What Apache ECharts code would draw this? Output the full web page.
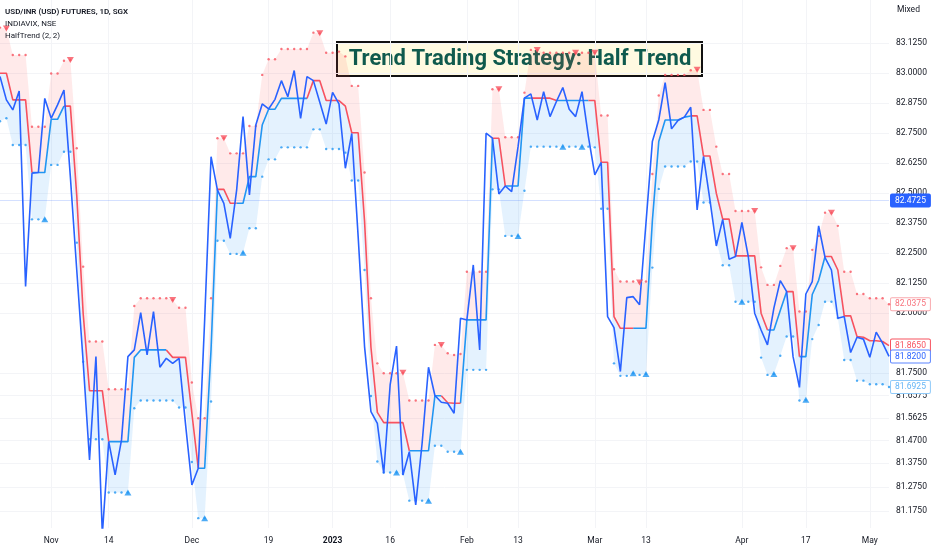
<!DOCTYPE html>
<html>
<head>
<meta charset="utf-8">
<title>HalfTrend</title>
<script src="https://cdn.jsdelivr.net/npm/echarts@6/dist/echarts.min.js"></script>
<style>
  html, body { margin: 0; padding: 0; background: #fff; }
  #chart { width: 932px; height: 550px; }
</style>
</head>
<body>
<div id="chart"></div>
<script>
// trading days (SGX), Oct 20 2022 .. May 4 2023, Jan 2 closed
function tradingDays(from, to, closed) {
  const out = []
  const d = new Date(from + 'T00:00:00Z')
  const end = new Date(to + 'T00:00:00Z')
  while (d <= end) {
    const wd = d.getUTCDay()
    const s = d.toISOString().slice(0, 10)
    if (wd !== 0 && wd !== 6 && closed.indexOf(s) < 0) out.push(s)
    d.setUTCDate(d.getUTCDate() + 1)
  }
  return out
}
const closedDays = ['2023-01-02']
const dates = tradingDays('2022-10-20', '2023-05-04', closedDays)

// price line (INDIAVIX overlay)
const closeVals = [
  82.986, 82.889, 82.847, 82.926, 82.111, 82.583, 82.586, 82.895, 82.812, 82.868,
  82.930, 82.569, 82.180, 81.798, 81.389, 81.819, 81.080, 81.465, 81.326, 81.472,
  81.819, 81.847, 82.002, 81.826, 82.007, 81.775, 81.812, 81.791, 81.812, 81.540,
  81.284, 81.354, 81.972, 82.652, 82.513, 82.458, 82.312, 82.513, 82.819, 82.493,
  82.784, 82.872, 82.851, 82.891, 82.969, 82.902, 83.011, 82.812, 82.986, 82.969,
  82.879, 82.788, 82.920, 82.872, 82.604, 82.749, 82.319, 81.861, 81.590, 81.541,
  81.333, 81.701, 81.863, 81.326, 81.423, 81.201, 81.458, 81.775, 81.657, 81.629,
  81.625, 81.583, 81.979, 81.972, 82.201, 81.847, 82.750, 82.729, 82.497, 82.530,
  82.507, 82.694, 82.896, 82.914, 82.805, 82.923, 82.819, 82.882, 82.940, 82.850,
  82.819, 82.923, 82.736, 82.576, 82.628, 81.986, 81.940, 81.757, 82.065, 82.069,
  82.035, 82.375, 82.715, 82.805, 82.961, 82.768, 82.803, 82.817, 82.858, 82.430,
  82.653, 82.472, 82.280, 82.391, 82.225, 82.236, 82.378, 82.236, 82.000, 81.930,
  81.868, 82.021, 82.136, 82.090, 81.819, 81.691, 82.080, 82.132, 82.364, 82.232,
  82.180, 81.979, 81.986, 81.836, 81.900, 81.892, 81.816, 81.921, 81.875, 81.820
]

// HalfTrend line
const htVals = [
  83.000, 83.000, 82.889, 82.889, 82.889, 82.586, 82.586, 82.586, 82.808, 82.808,
  82.863, 82.863, 82.490, 82.000, 81.677, 81.677, 81.677, 81.465, 81.465, 81.465,
  81.465, 81.816, 81.847, 81.847, 81.847, 81.847, 81.847, 81.816, 81.816, 81.816,
  81.583, 81.354, 81.354, 81.850, 82.516, 82.516, 82.458, 82.458, 82.458, 82.569,
  82.569, 82.784, 82.850, 82.850, 82.895, 82.895, 82.895, 82.895, 82.895, 82.969,
  82.969, 82.886, 82.886, 82.886, 82.863, 82.752, 82.752, 82.383, 81.858, 81.587,
  81.544, 81.544, 81.544, 81.544, 81.427, 81.427, 81.427, 81.427, 81.656, 81.656,
  81.627, 81.625, 81.625, 81.972, 81.972, 81.972, 81.972, 82.729, 82.729, 82.530,
  82.530, 82.530, 82.896, 82.896, 82.896, 82.896, 82.896, 82.886, 82.886, 82.886,
  82.886, 82.886, 82.886, 82.886, 82.629, 82.629, 81.986, 81.937, 81.937, 81.937,
  81.937, 81.937, 82.385, 82.715, 82.805, 82.805, 82.805, 82.817, 82.822, 82.822,
  82.655, 82.655, 82.500, 82.392, 82.392, 82.239, 82.239, 82.239, 82.239, 82.000,
  81.930, 81.930, 82.011, 82.090, 82.090, 81.819, 81.819, 82.078, 82.137, 82.236,
  82.236, 82.180, 81.989, 81.989, 81.903, 81.900, 81.885, 81.885, 81.882, 81.865
]

// ATR channel (upper / lower dots)
const atrHighVals = [
  83.190, 83.186, 83.076, 83.076, 83.076, 82.777, 82.777, 82.777, 82.999, 82.999,
  83.052, 83.055, 82.687, 82.194, 81.882, 81.882, 81.882, 81.683, 81.683, 81.683,
  81.683, 82.030, 82.062, 82.062, 82.062, 82.062, 82.062, 82.055, 82.023, 82.023,
  81.711, 81.562, 81.562, 82.062, 82.729, 82.729, 82.666, 82.666, 82.666, 82.780,
  82.780, 82.993, 83.058, 83.058, 83.101, 83.101, 83.101, 83.101, 83.101, 83.169,
  83.166, 83.085, 83.085, 83.090, 83.070, 82.947, 82.947, 82.586, 82.062, 81.791,
  81.750, 81.750, 81.750, 81.752, 81.636, 81.636, 81.636, 81.636, 81.868, 81.868,
  81.833, 81.826, 81.830, 82.173, 82.173, 82.173, 82.173, 82.933, 82.933, 82.733,
  82.733, 82.733, 82.919, 83.097, 83.097, 83.085, 83.085, 83.085, 83.085, 83.085,
  83.085, 83.085, 83.085, 83.085, 82.824, 82.824, 82.183, 82.132, 82.132, 82.132,
  82.128, 82.132, 82.580, 82.907, 82.993, 82.993, 82.993, 82.993, 83.012, 83.014,
  82.847, 82.847, 82.694, 82.580, 82.580, 82.426, 82.426, 82.426, 82.426, 82.191,
  82.118, 82.118, 82.197, 82.271, 82.271, 82.007, 82.007, 82.264, 82.322, 82.419,
  82.419, 82.364, 82.173, 82.173, 82.080, 82.080, 82.062, 82.062, 82.062, 82.0375
]
const atrLowVals = [
  82.800, 82.812, 82.701, 82.701, 82.701, 82.391, 82.391, 82.391, 82.618, 82.618,
  82.673, 82.673, 82.294, 81.798, 81.475, 81.475, 81.475, 81.253, 81.253, 81.253,
  81.253, 81.604, 81.636, 81.636, 81.636, 81.636, 81.636, 81.636, 81.607, 81.607,
  81.380, 81.146, 81.146, 81.632, 82.302, 82.302, 82.247, 82.247, 82.252, 82.354,
  82.354, 82.569, 82.641, 82.641, 82.691, 82.691, 82.691, 82.691, 82.691, 82.766,
  82.766, 82.684, 82.684, 82.684, 82.669, 82.553, 82.553, 82.180, 81.655, 81.382,
  81.336, 81.336, 81.336, 81.330, 81.219, 81.219, 81.219, 81.219, 81.448, 81.448,
  81.423, 81.423, 81.423, 81.764, 81.764, 81.764, 81.764, 82.516, 82.516, 82.322,
  82.322, 82.322, 82.510, 82.694, 82.694, 82.694, 82.694, 82.694, 82.694, 82.694,
  82.694, 82.694, 82.694, 82.691, 82.435, 82.435, 81.791, 81.739, 81.739, 81.750,
  81.743, 81.747, 82.190, 82.518, 82.611, 82.611, 82.611, 82.611, 82.632, 82.632,
  82.461, 82.461, 82.300, 82.200, 82.200, 82.048, 82.048, 82.048, 82.048, 81.815,
  81.743, 81.747, 81.823, 81.903, 81.903, 81.636, 81.639, 81.892, 81.951, 82.048,
  82.048, 81.980, 81.805, 81.805, 81.719, 81.719, 81.704, 81.704, 81.704, 81.6925
]

// signal bars (index into dates)
const buySignals = [7, 20, 32, 38, 62, 67, 72, 81, 88, 91, 99, 101, 116, 121, 126]
const sellSignals = [1, 11, 27, 35, 50, 63, 69, 78, 84, 90, 93, 100, 109, 118, 124, 130]

// colour of the HalfTrend line from that bar on
const htSwitches = [
  [0, 'dn'], [5, 'up'], [10, 'dn'], [17, 'up'], [26, 'dn'], [31, 'up'], [34, 'dn'],
  [37, 'up'], [48, 'dn'], [64, 'up'], [69, 'dn'], [72, 'up'], [77, 'dn'], [79, 'up'],
  [83, 'dn'], [87, 'up'], [92, 'dn'], [99, 'up'], [108, 'dn'], [120, 'up'],
  [123, 'dn'], [125, 'up'], [129, 'dn']
]

// x axis labels
const xTickLabels = [
  ['2022-11-01', 'Nov'], ['2022-11-14', '14'], ['2022-12-01', 'Dec'], ['2022-12-19', '19'],
  ['2023-01-03', '2023'], ['2023-01-16', '16'], ['2023-02-01', 'Feb'], ['2023-02-13', '13'],
  ['2023-03-01', 'Mar'], ['2023-03-13', '13'], ['2023-04-03', 'Apr'], ['2023-04-17', '17'],
  ['2023-05-01', 'May']
]
// y axis labels ("Mixed" scale)
const yTickValues = [
  83.125, 83.0, 82.875, 82.75, 82.625, 82.5, 82.375, 82.25, 82.125, 82.0,
  81.75, 81.6575, 81.5625, 81.47, 81.375, 81.275, 81.175
]
const lastPrice = 82.4725

const RED = '#f7525f'
const BLUE = '#2196f3'
const PRICE = '#2962ff'
const FONT = 'Roboto'

// --- build series data ---
const n = dates.length
const tickMap = {}
xTickLabels.forEach(function (p) { tickMap[p[0]] = p[1] })

function trendAt(i) {
  let t = 'dn'
  htSwitches.forEach(function (s) { if (s[0] <= i) t = s[1] })
  return t
}
const htDn = new Array(n).fill(null)
const htUp = new Array(n).fill(null)
for (let i = 0; i < n - 1; i++) {
  const arr = trendAt(i) === 'up' ? htUp : htDn
  arr[i] = htVals[i]
  arr[i + 1] = htVals[i + 1]
}
const bandLow = atrLowVals.slice()
const bandBlue = htVals.map(function (v, i) { return +(v - atrLowVals[i]).toFixed(4) })
const bandRed = atrHighVals.map(function (v, i) { return +(v - htVals[i]).toFixed(4) })

function tag(color, border, bg) {
  return {
    show: true,
    distance: 2,
    fontFamily: FONT,
    fontSize: 8.5,
    color: color,
    backgroundColor: bg || '#fff',
    borderColor: border,
    borderWidth: 1,
    borderRadius: 1,
    padding: [2, 4, 1, 4]
  }
}

const chart = echarts.init(document.getElementById('chart'))

const option = {
  animation: false,
  backgroundColor: '#fff',
  grid: { left: -1, right: 43, top: 0, bottom: 22 },
  xAxis: {
    type: 'category',
    data: dates,
    boundaryGap: false,
    axisLine: { show: false },
    axisTick: { show: false },
    axisLabel: {
      interval: function (idx, val) { return tickMap[val] !== undefined },
      formatter: function (val) {
        const t = tickMap[val]
        return /^\d{4}$/.test(t) ? '{b|' + t + '}' : t
      },
      color: '#131722',
      fontFamily: FONT,
      fontSize: 8.5,
      margin: 8,
      rich: { b: { fontWeight: 'bold', fontFamily: FONT, fontSize: 8.5, color: '#131722' } }
    },
    splitLine: {
      show: true,
      interval: function (idx, val) { return tickMap[val] !== undefined },
      lineStyle: { color: '#f3f4f7', width: 1 }
    }
  },
  yAxis: {
    type: 'value',
    position: 'right',
    min: 81.105,
    max: 83.305,
    axisLine: { show: false },
    axisTick: { show: false, customValues: yTickValues },
    axisLabel: {
      customValues: yTickValues,
      formatter: function (v) { return v.toFixed(4) },
      color: '#131722',
      fontFamily: FONT,
      fontSize: 8.5,
      margin: 7
    },
    splitLine: { show: true, lineStyle: { color: '#f3f4f7', width: 1 } }
  },
  series: [
    // fill between ATR low and HalfTrend (blue), HalfTrend and ATR high (red)
    {
      name: 'atrLowBase', type: 'line', stack: 'band', data: bandLow,
      symbol: 'none', lineStyle: { width: 0 }, z: 1, silent: true,
      endLabel: Object.assign(tag('#64b5f6', '#90caf9'), {
        formatter: function () { return atrLowVals[n - 1].toFixed(4) }
      })
    },
    {
      name: 'bandBlue', type: 'line', stack: 'band', data: bandBlue,
      symbol: 'none', lineStyle: { width: 0 }, z: 1, silent: true,
      areaStyle: { color: 'rgba(33,150,243,0.12)', opacity: 1 }
    },
    {
      name: 'bandRed', type: 'line', stack: 'band', data: bandRed,
      symbol: 'none', lineStyle: { width: 0 }, z: 1, silent: true,
      areaStyle: { color: 'rgba(255,82,82,0.12)', opacity: 1 },
      endLabel: Object.assign(tag('#f7727c', '#f9a9ae'), {
        formatter: function () { return atrHighVals[n - 1].toFixed(4) }
      })
    },
    // channel dots
    {
      name: 'atrHigh', type: 'scatter', symbol: 'circle', symbolSize: 2.4, z: 2,
      data: atrHighVals.map(function (v, i) { return [i, v] }),
      itemStyle: { color: RED }
    },
    {
      name: 'atrLow', type: 'scatter', symbol: 'circle', symbolSize: 2.4, z: 2,
      data: atrLowVals.map(function (v, i) { return [i, v] }),
      itemStyle: { color: BLUE }
    },
    // HalfTrend line
    {
      name: 'htUp', type: 'line', data: htUp, symbol: 'none', z: 3,
      lineStyle: { color: BLUE, width: 1.6 }
    },
    {
      name: 'htDn', type: 'line', data: htDn, symbol: 'none', z: 3,
      lineStyle: { color: RED, width: 1.6 },
      endLabel: Object.assign(tag(RED, RED), {
        formatter: function () { return htVals[n - 1].toFixed(4) }
      })
    },
    // price
    {
      name: 'INDIAVIX', type: 'line', data: closeVals, symbol: 'none', z: 4,
      lineStyle: { color: PRICE, width: 1.6 },
      endLabel: Object.assign(tag(PRICE, '#5b84ff'), {
        formatter: function () { return closeVals[n - 1].toFixed(4) }
      }),
      markLine: {
        silent: true,
        symbol: ['none', 'none'],
        data: [{ yAxis: lastPrice }],
        lineStyle: { color: 'rgba(41,98,255,0.2)', width: 1, type: 'solid' },
        label: Object.assign(tag('#fff', PRICE, PRICE), {
          position: 'end',
          formatter: lastPrice.toFixed(4)
        })
      }
    },
    // signals
    {
      name: 'buy', type: 'scatter', symbol: 'triangle', symbolSize: [7, 6], z: 5,
      data: buySignals.map(function (i) { return [i, atrLowVals[i]] }),
      itemStyle: { color: BLUE }
    },
    {
      name: 'sell', type: 'scatter', symbol: 'triangle', symbolSize: [7, 6], symbolRotate: 180, z: 5,
      data: sellSignals.map(function (i) { return [i, atrHighVals[i]] }),
      itemStyle: { color: RED }
    }
  ],
  graphic: [
    {
      type: 'text', left: 5, top: 8, z: 50,
      style: { text: 'USD/INR (USD) FUTURES, 1D, SGX', fill: '#131722', font: '600 8px ' + FONT }
    },
    {
      type: 'text', left: 5, top: 20, z: 50,
      style: { text: 'INDIAVIX, NSE', fill: '#131722', font: '8px ' + FONT }
    },
    {
      type: 'text', left: 5, top: 32, z: 50,
      style: { text: 'HalfTrend (2, 2)', fill: '#131722', font: '8px ' + FONT }
    },
    {
      type: 'text', left: 897, top: 5, z: 50,
      style: { text: 'Mixed', fill: '#131722', font: '8.5px ' + FONT }
    },
    {
      type: 'group', left: 336, top: 41, z: 100,
      children: [
        {
          type: 'rect', shape: { x: 1, y: 1, width: 365, height: 34 },
          style: { fill: 'rgba(255,248,216,0.78)', stroke: '#111', lineWidth: 2 }
        },
        {
          type: 'text', x: 184, y: 18.5,
          style: {
            text: 'Trend Trading Strategy: Half Trend',
            fill: '#0f5a4d',
            font: 'bold 22px ' + FONT,
            align: 'center',
            verticalAlign: 'middle'
          }
        }
      ]
    }
  ]
}

chart.setOption(option)
</script>
</body>
</html>
